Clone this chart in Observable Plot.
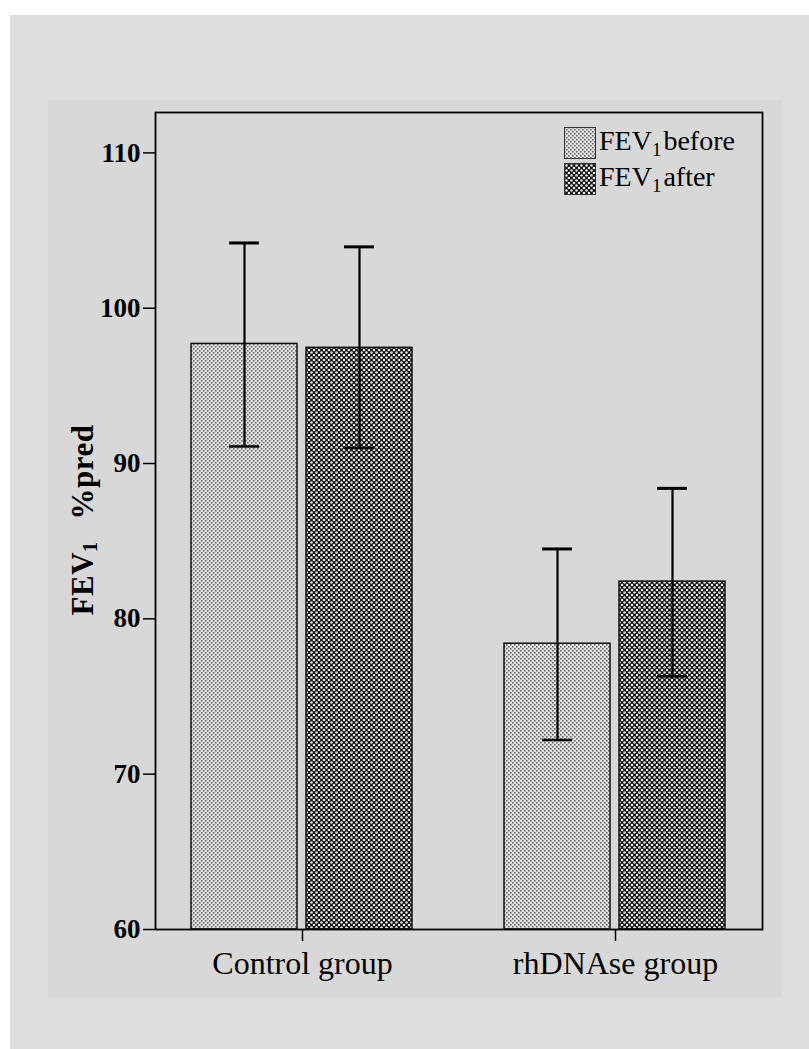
<!DOCTYPE html>
<html>
<head>
<meta charset="utf-8">
<script src="https://cdn.jsdelivr.net/npm/d3@7"></script>
<script src="https://cdn.jsdelivr.net/npm/@observablehq/plot@0.6"></script>
<style>
  html, body { margin: 0; padding: 0; background: #ffffff; }
  #outer { position: absolute; left: 10px; top: 15px; width: 799px; height: 1034px; background: #dcdddf; }
  #panel { position: absolute; left: 38px; top: 85px; width: 734px; height: 897px; background: #d8d8d8; }
  #chart { position: absolute; left: 0; top: 0; }
  .serif { font-family: "Liberation Serif", "Times New Roman", serif; color: #000; }
  #ylabel { position: absolute; left: 35px; top: 420px; transform: translate(-50%, -50%) rotate(-90deg);
            white-space: nowrap; font-weight: bold; font-size: 31px; letter-spacing: 0.5px; }
  #ylabel sub { font-size: 20px; vertical-align: -4px; margin-right: 22px; }
  .lrow { position: absolute; left: 516px; height: 32px; white-space: nowrap; font-size: 28px; line-height: 32px; }
  .lrow svg { position: absolute; left: 0; top: 0; }
  .lrow span { position: absolute; left: 35px; top: -2px; }
  .lrow sub { font-size: 19px; vertical-align: -6px; margin-right: 2px; }
</style>
</head>
<body>
<svg width="0" height="0" style="position:absolute">
  <defs>
    <pattern id="patBefore" patternUnits="userSpaceOnUse" width="4" height="4">
      <rect width="4" height="4" fill="#e2e2e2"></rect>
      <rect x="0" y="0" width="1.6" height="1.6" fill="#6a6a6a"></rect>
      <rect x="2" y="2" width="1.6" height="1.6" fill="#6a6a6a"></rect>
    </pattern>
    <pattern id="patAfter" patternUnits="userSpaceOnUse" width="5" height="5">
      <rect width="5" height="5" fill="#0e0e0e"></rect>
      <circle cx="0" cy="0" r="1.3" fill="#e6e6e6"></circle>
      <circle cx="5" cy="0" r="1.3" fill="#e6e6e6"></circle>
      <circle cx="0" cy="5" r="1.3" fill="#e6e6e6"></circle>
      <circle cx="5" cy="5" r="1.3" fill="#e6e6e6"></circle>
      <circle cx="2.5" cy="2.5" r="1.3" fill="#e6e6e6"></circle>
    </pattern>
  </defs>
</svg>
<div id="outer">
  <div id="panel" class="serif">
    <div id="chart"></div>
    <div id="ylabel" class="serif">FEV<sub>1</sub>%pred</div>
    <div class="lrow serif" style="top:27px">
      <svg width="32" height="32"><rect x="0.5" y="0.5" width="31" height="31" fill="url(#patBefore)" stroke="#333" stroke-width="1"></rect></svg>
      <span>FEV<sub>1</sub>before</span>
    </div>
    <div class="lrow serif" style="top:63px">
      <svg width="32" height="32"><rect x="0.5" y="0.5" width="31" height="31" fill="url(#patAfter)" stroke="#333" stroke-width="1"></rect></svg>
      <span>FEV<sub>1</sub>after</span>
    </div>
  </div>
</div>
<script>
// ---- data ----
const groups = ["Control group", "rhDNAse group"];
const series = ["before", "after"];
const meanBefore = [97.7, 78.4];
const meanAfter  = [97.45, 82.4];
const lowBefore  = [91.1, 72.2];
const highBefore = [104.2, 84.5];
const lowAfter   = [91.0, 76.3];
const highAfter  = [103.95, 88.4];
const yTicks = [60, 70, 80, 90, 100, 110];
const yDomain = [60, 112.6];
const baseline = 60;

const rows = [];
groups.forEach((g, i) => {
  rows.push({group: g, series: "before", base: baseline, mean: meanBefore[i], low: lowBefore[i], high: highBefore[i]});
  rows.push({group: g, series: "after",  base: baseline, mean: meanAfter[i],  low: lowAfter[i],  high: highAfter[i]});
});

const plot = Plot.plot({
  width: 734,
  height: 897,
  marginLeft: 106,
  marginRight: 19,
  marginTop: 12,
  marginBottom: 68,
  style: {background: "transparent", fontFamily: "'Liberation Serif', 'Times New Roman', serif", color: "#000", overflow: "visible"},
  fx: {domain: groups, paddingInner: 0.0605, paddingOuter: 0, label: null},
  x: {domain: series, paddingInner: 0.0776, paddingOuter: 0.31, axis: null},
  y: {domain: yDomain, label: null},
  color: {domain: series, range: ["url(#patBefore)", "url(#patAfter)"]},
  marks: [
    Plot.barY(rows, {fx: "group", x: "series", y1: "base", y2: "mean", fill: "series", stroke: "#111", strokeWidth: 1.5}),
    Plot.ruleX(rows, {fx: "group", x: "series", y1: "low", y2: "high", stroke: "#000", strokeWidth: 2.2}),
    Plot.tickY(rows, {fx: "group", x: "series", y: "high", insetLeft: 38, insetRight: 38, stroke: "#000", strokeWidth: 3}),
    Plot.tickY(rows, {fx: "group", x: "series", y: "low", insetLeft: 38, insetRight: 38, stroke: "#000", strokeWidth: 2.5}),
    Plot.frame({facet: "super", stroke: "#000", strokeWidth: 1.8}),
    Plot.axisY({ticks: yTicks, tickSize: 12, tickPadding: 3, tickFormat: d => String(d), fontSize: 27, fontWeight: "bold", label: null, strokeWidth: 1.5}),
    Plot.axisFx({anchor: "bottom", tickSize: 12, tickPadding: 10, fontSize: 32, label: null, strokeWidth: 1.5})
  ]
});
document.getElementById("chart").appendChild(plot);
</script>
</body>
</html>
